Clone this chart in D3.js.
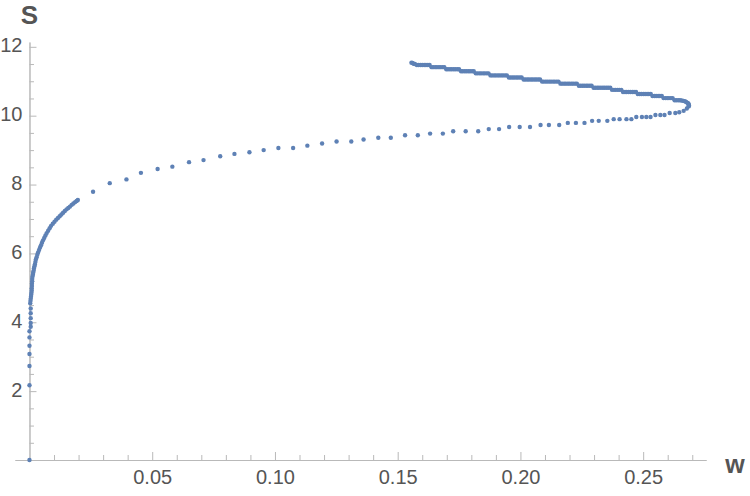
<!DOCTYPE html>
<html>
<head>
<meta charset="utf-8">
<script src="https://cdnjs.cloudflare.com/ajax/libs/d3/7.8.5/d3.min.js"></script>
<style>
  body { margin: 0; background: #fff; }
  svg { display: block; }
</style>
</head>
<body>
<script>
// near-vertical start of the curve (w ~ 0)
var stemPts = [[0,0],[0,2.17],[0,2.73],[0,3.08],[0,3.32],[0,3.56],[0,3.74],
  [0.0005,3.87],[0.0005,3.98],[0.0005,4.12],[0.0005,4.26],[0.0005,4.40]];

// dense bend, lower left
var bendPts = [[0.0003,4.55],[0.0004,4.62],[0.0005,4.68],[0.0006,4.74],[0.0007,4.80],[0.0008,4.86],
  [0.0009,4.92],[0.0009,4.98],[0.0010,5.05],[0.0010,5.12],[0.0011,5.19],[0.0011,5.26],[0.0012,5.32],
  [0.0014,5.38],[0.0015,5.44],[0.0017,5.50],[0.0018,5.56],[0.0020,5.62],[0.0022,5.68],[0.0024,5.75],
  [0.0026,5.82],[0.0029,5.89],[0.0032,5.96],[0.0035,6.03],[0.0039,6.10],[0.0043,6.17],[0.0047,6.24],
  [0.0051,6.31],[0.0055,6.38],[0.0060,6.45],[0.0065,6.52],[0.0070,6.59],[0.0076,6.66],[0.0082,6.73],
  [0.0088,6.80],[0.0095,6.86],[0.0102,6.92],[0.0109,6.98],[0.0116,7.03],[0.0123,7.08],[0.0130,7.13],
  [0.0137,7.18],[0.0144,7.23],[0.0151,7.28],[0.0158,7.32],[0.0165,7.36],[0.0172,7.41],[0.0179,7.45],
  [0.0186,7.49],[0.0192,7.52],[0.0197,7.55]];

// sparse rising branch
var risePts = [[0.0259,7.79],[0.0327,8.04],[0.0395,8.15],[0.0454,8.34],[0.0522,8.45],[0.0582,8.52],
  [0.0650,8.65],[0.0709,8.71],[0.0777,8.82],[0.0835,8.89],[0.0896,8.94],[0.0954,9.00],[0.1014,9.06],
  [0.1074,9.06],[0.1132,9.13],[0.1192,9.19],[0.1251,9.25],[0.1311,9.25],[0.1361,9.31],[0.1421,9.36],
  [0.1472,9.36],[0.1530,9.43],[0.1582,9.43],[0.1632,9.48],[0.1684,9.48],[0.1726,9.55],[0.1777,9.55],
  [0.1828,9.55],[0.1871,9.61],[0.1913,9.61],[0.1954,9.67],[0.1997,9.67],[0.2039,9.67],[0.2082,9.73],
  [0.2116,9.73],[0.2158,9.73],[0.2193,9.79],[0.2226,9.79],[0.2261,9.79],[0.2292,9.85],[0.2319,9.85],
  [0.2354,9.85],[0.2380,9.90],[0.2404,9.90],[0.2432,9.90],[0.2452,9.90],[0.2472,9.96],[0.2495,9.96],
  [0.2513,9.96],[0.2530,9.96],[0.2550,10.02],[0.2570,10.02],[0.2587,10.02],[0.2608,10.08],[0.2631,10.08],
  [0.2647,10.10],[0.2665,10.14],[0.2678,10.21]];

// the turn at the right
var turnPts = [[0.2685,10.27],[0.2687,10.29],[0.2686,10.31],[0.2685,10.34],[0.2683,10.36],[0.2679,10.38],
  [0.2675,10.40],[0.2670,10.42],[0.2664,10.43],[0.2657,10.44]];

// dense upper branch: each step is one S level with its run of w values
var upperSteps = [
  [10.45, [0.2650,0.2643,0.2635,0.2628]],
  [10.51, [0.2620,0.2613,0.2605,0.2598,0.2591,0.2583]],
  [10.57, [0.2576,0.2568,0.2561,0.2553,0.2546,0.2538]],
  [10.63, [0.2531,0.2523,0.2516,0.2508,0.2501,0.2493,0.2486,0.2478]],
  [10.69, [0.2471,0.2463,0.2456,0.2448,0.2441,0.2433,0.2426,0.2418]],
  [10.75, [0.2411,0.2403,0.2396,0.2388,0.2381,0.2373]],
  [10.81, [0.2366,0.2358,0.2351,0.2343,0.2336,0.2328,0.2320,0.2313,0.2305,0.2298]],
  [10.87, [0.2290,0.2283,0.2275,0.2268,0.2260,0.2253,0.2245,0.2238]],
  [10.93, [0.2230,0.2223,0.2215,0.2208,0.2200,0.2193,0.2185,0.2178,0.2170,0.2163]],
  [10.99, [0.2155,0.2148,0.2140,0.2133,0.2125,0.2118,0.2110,0.2103,0.2095,0.2088]],
  [11.05, [0.2080,0.2073,0.2065,0.2058,0.2050,0.2043,0.2035,0.2028,0.2020,0.2013]],
  [11.11, [0.2005,0.1998,0.1990,0.1983,0.1975,0.1968,0.1960,0.1953]],
  [11.17, [0.1945,0.1938,0.1930,0.1923,0.1915,0.1908,0.1900,0.1893,0.1885,0.1878]],
  [11.23, [0.1870,0.1863,0.1855,0.1848,0.1840,0.1833,0.1825,0.1818]],
  [11.29, [0.1810,0.1803,0.1795,0.1788,0.1780,0.1773,0.1765,0.1758]],
  [11.35, [0.1750,0.1743,0.1735,0.1728,0.1720,0.1713,0.1705,0.1698]],
  [11.41, [0.1690,0.1683,0.1675,0.1668,0.1660,0.1653,0.1645,0.1638]],
  [11.47, [0.1630,0.1623,0.1615,0.1608,0.1600,0.1593,0.1585,0.1578]]
];
var endPts = [[0.1570,11.50],[0.1565,11.51],[0.1560,11.53],[0.1556,11.54]];

var xMajor = [0.05, 0.10, 0.15, 0.20, 0.25];
var xMinor = [0.01,0.02,0.03,0.04,0.06,0.07,0.08,0.09,0.11,0.12,0.13,0.14,0.16,0.17,0.18,0.19,
  0.21,0.22,0.23,0.24,0.26,0.27];
var yMajor = [2, 4, 6, 8, 10, 12];
var yMinor = [0.5,1,1.5,2.5,3,3.5,4.5,5,5.5,6.5,7,7.5,8.5,9,9.5,10.5,11,11.5];

var width = 750, height = 496;
var dotColor = "#5e81b5";
var axisColor = "#b9b9b9";
var labelColor = "#555";
var font = "'Liberation Sans', Arial, sans-serif";

var svg = d3.select("body").append("svg")
  .attr("width", width)
  .attr("height", height);

var x = d3.scaleLinear().domain([-0.0059, 0.2756]).range([15, 706]);
var y = d3.scaleLinear().domain([0, 12.14]).range([460, 42]);

// minor + major ticks, drawn inward
var xMinorAxis = d3.axisBottom(x).tickValues(xMinor).tickSizeInner(-5).tickSizeOuter(0).tickFormat("");
var xMajorAxis = d3.axisBottom(x).tickValues(xMajor).tickSizeInner(-8).tickSizeOuter(0)
  .tickPadding(10).tickFormat(d3.format(".2f"));
var yMinorAxis = d3.axisLeft(y).tickValues(yMinor).tickSizeInner(-4.5).tickSizeOuter(0).tickFormat("");
var yMajorAxis = d3.axisLeft(y).tickValues(yMajor).tickSizeInner(-7).tickSizeOuter(0)
  .tickPadding(7).tickFormat(d3.format("d"));

function styleAxis(g) {
  g.selectAll("path, line").attr("stroke", axisColor).attr("stroke-width", 1);
  g.selectAll("text").attr("fill", labelColor).style("font-family", font).style("font-size", "20px");
}

svg.append("g").attr("transform", "translate(0," + y(0) + ")").call(xMinorAxis).call(styleAxis);
svg.append("g").attr("transform", "translate(0," + y(0) + ")").call(xMajorAxis).call(styleAxis);
svg.append("g").attr("transform", "translate(" + x(0) + ",0)").call(yMinorAxis).call(styleAxis);
var yg = svg.append("g").attr("transform", "translate(" + x(0) + ",0)").call(yMajorAxis).call(styleAxis);
yg.selectAll("text").attr("dy", "0.25em");

// axis titles
svg.append("text")
  .attr("x", x(0)).attr("y", 24)
  .attr("text-anchor", "middle")
  .attr("fill", labelColor)
  .style("font-family", font).style("font-weight", "bold").style("font-size", "26px")
  .text("S");

svg.append("text")
  .attr("x", 735).attr("y", 473)
  .attr("text-anchor", "middle")
  .attr("fill", labelColor)
  .style("font-family", font).style("font-weight", "bold").style("font-size", "25px")
  .text("w");

var upperPts = [];
upperSteps.forEach(function (step) {
  step[1].forEach(function (w) { upperPts.push([w, step[0]]); });
});

var allPts = stemPts.concat(bendPts, risePts, turnPts, upperPts, endPts);

svg.append("g").selectAll("circle")
  .data(allPts)
  .enter()
  .append("circle")
  .attr("cx", d => x(d[0]))
  .attr("cy", d => y(d[1]))
  .attr("r", 2.2)
  .attr("fill", dotColor);
</script>
</body>
</html>
